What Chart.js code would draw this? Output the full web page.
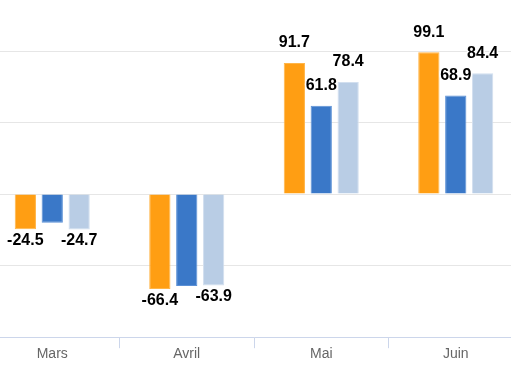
<!DOCTYPE html>
<html>
<head>
<meta charset="utf-8">
<script src="https://cdn.jsdelivr.net/npm/chart.js@4.4.1/dist/chart.umd.min.js"></script>
<style>
  html, body { margin: 0; padding: 0; background: #fff; }
  #wrap { position: relative; width: 511px; height: 375px; overflow: hidden; }
  #box { position: absolute; left: -15px; top: 0; width: 538px; height: 375px; }
</style>
</head>
<body>
<div id="wrap"><div id="box"><canvas id="myChart"></canvas></div></div>
<script>
// values (two blue negatives are estimates, their labels are hidden)
var months = ['Mars', 'Avril', 'Mai', 'Juin'];
var orangeVals = [-24.5, -66.4, 91.7, 99.1];
var blueVals = [-20.1, -64.2, 61.8, 68.9];
var lightVals = [-24.7, -63.9, 78.4, 84.4];
var yTicks = [-100, -50, 0, 50, 100];

// value labels, placed above/below the bar, skipping ones that overlap
var valueLabels = {
  id: 'valueLabels',
  afterDatasetsDraw: function(chart) {
    var ctx = chart.ctx;
    var placed = [];
    var order = [0, 2, 1];
    ctx.save();
    ctx.font = 'bold 16px "Liberation Sans", Arial, sans-serif';
    ctx.textAlign = 'center';
    ctx.textBaseline = 'middle';
    order.forEach(function(di) {
      var meta = chart.getDatasetMeta(di);
      var data = chart.data.datasets[di].data;
      meta.data.forEach(function(bar, i) {
        var v = data[i];
        var txt = v.toFixed(1);
        var w = ctx.measureText(txt).width;
        var cy = v >= 0 ? bar.y - 20 : bar.y + 11;
        var box = { l: bar.x - w / 2, r: bar.x + w / 2, t: cy - 7, b: cy + 7 };
        var hit = placed.some(function(p) {
          return box.l < p.r && box.r > p.l && box.t < p.b && box.b > p.t;
        });
        if (hit) return;
        placed.push(box);
        ctx.lineWidth = 3;
        ctx.strokeStyle = '#fff';
        ctx.lineJoin = 'round';
        ctx.strokeText(txt, bar.x, cy);
        ctx.fillStyle = '#000';
        ctx.fillText(txt, bar.x, cy);
      });
    });
    ctx.restore();
  }
};

var ctx = document.getElementById('myChart').getContext('2d');

var chart = new Chart(ctx, {
  type: 'bar',
  data: {
    labels: months,
    datasets: [{
      data: orangeVals,
      backgroundColor: '#FF9E13',
      borderColor: '#FFB548',
      borderWidth: 1
    }, {
      data: blueVals,
      backgroundColor: '#3A78C8',
      borderColor: '#5B90D6',
      borderWidth: 1
    }, {
      data: lightVals,
      backgroundColor: '#B9CDE5',
      borderColor: '#D2DFEF',
      borderWidth: 1
    }]
  },
  options: {
    responsive: true,
    maintainAspectRatio: false,
    animation: false,
    categoryPercentage: 0.6,
    barPercentage: 0.79,
    layout: { padding: { top: 51, left: 0, right: 0, bottom: 14 } },
    plugins: {
      legend: { display: false },
      tooltip: { enabled: false }
    },
    scales: {
      x: {
        grid: {
          offset: true,
          drawOnChartArea: false,
          tickLength: 11,
          color: '#ccd6eb'
        },
        border: { color: '#ccd6eb' },
        ticks: {
          color: '#666',
          padding: -2,
          font: { family: '"Liberation Sans", Arial, sans-serif', size: 14 }
        }
      },
      y: {
        min: yTicks[0],
        max: yTicks[yTicks.length - 1],
        afterBuildTicks: function(axis) {
          axis.ticks = yTicks.map(function(v) { return { value: v }; });
        },
        grid: { color: '#e6e6e6', drawTicks: false },
        border: { display: false },
        ticks: { display: false }
      }
    }
  },
  plugins: [valueLabels]
});
</script>
</body>
</html>
